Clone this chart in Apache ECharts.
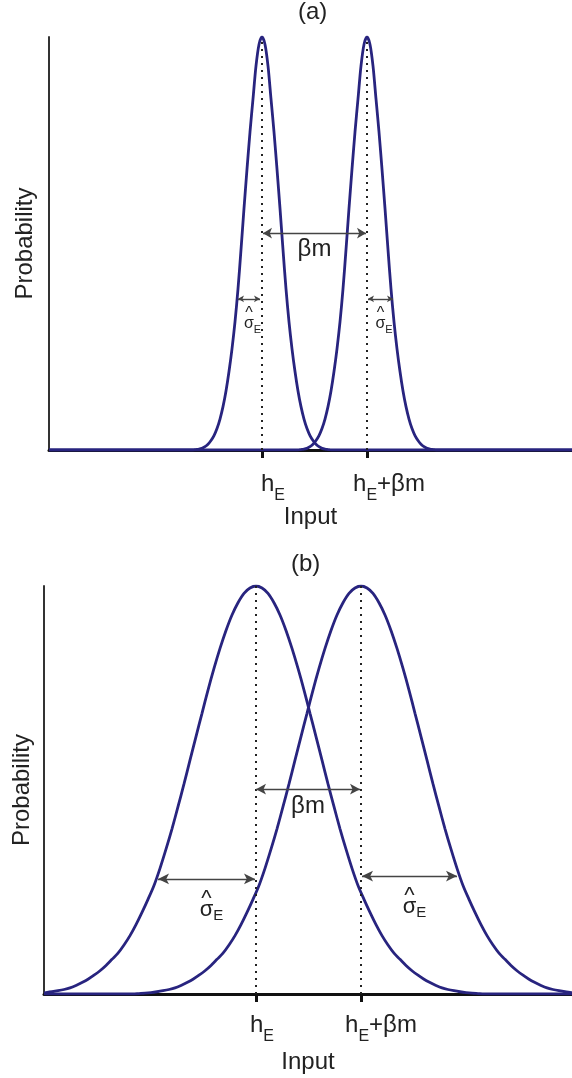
<!DOCTYPE html>
<html>
<head>
<meta charset="utf-8">
<script src="https://cdn.jsdelivr.net/npm/echarts@6/dist/echarts.min.js"></script>
<style>
  html, body { margin: 0; padding: 0; background: #fff; }
  #main { width: 572px; height: 1078px; }
</style>
</head>
<body>
<div id="main"></div>
<script>
var chartDom = document.getElementById("main");
var myChart = echarts.init(chartDom);
var option;

const FONT = '"Liberation Sans", Arial, sans-serif';
const INK = "#222";
const CURVE = "#28247f";

// ---- panel (a): narrow distributions ----
const ticksA = [213, 318]; // h_E, h_E + beta m
const xMaxA = 523;
const curveA1 = [
  [0, 0], [144, 0], [147, 0.001], [150, 0.002], [153, 0.004], [156, 0.008],
  [159, 0.014], [162, 0.023], [165, 0.035], [168, 0.052], [171, 0.075], [174, 0.105],
  [177, 0.143], [180, 0.19], [183, 0.245], [186, 0.31], [189, 0.39], [192, 0.485],
  [195, 0.585], [198, 0.68], [201, 0.77], [204, 0.85], [207, 0.93], [210, 0.982],
  [213, 1], [216, 0.982], [219, 0.93], [222, 0.85], [225, 0.77], [228, 0.68],
  [231, 0.585], [234, 0.485], [237, 0.39], [240, 0.31], [243, 0.245], [246, 0.19],
  [249, 0.143], [252, 0.105], [255, 0.075], [258, 0.052], [261, 0.035], [264, 0.023],
  [267, 0.014], [270, 0.008], [273, 0.004], [276, 0.002], [279, 0.001], [282, 0],
  [523, 0],
];
const curveA2 = [
  [0, 0], [249, 0], [252, 0.001], [255, 0.002], [258, 0.004], [261, 0.008],
  [264, 0.014], [267, 0.023], [270, 0.035], [273, 0.052], [276, 0.075], [279, 0.105],
  [282, 0.143], [285, 0.19], [288, 0.245], [291, 0.31], [294, 0.39], [297, 0.485],
  [300, 0.585], [303, 0.68], [306, 0.77], [309, 0.85], [312, 0.93], [315, 0.982],
  [318, 1], [321, 0.982], [324, 0.93], [327, 0.85], [330, 0.77], [333, 0.68],
  [336, 0.585], [339, 0.485], [342, 0.39], [345, 0.31], [348, 0.245], [351, 0.19],
  [354, 0.143], [357, 0.105], [360, 0.075], [363, 0.052], [366, 0.035], [369, 0.023],
  [372, 0.014], [375, 0.008], [378, 0.004], [381, 0.002], [384, 0.001], [387, 0],
  [523, 0],
];
// arrow tips [x, y]
const betaArrowA = [[214, 0.525], [317, 0.525]];
const sigmaArrowsA = [
  [[189, 0.366], [211, 0.366]],
  [[319, 0.366], [344, 0.366]],
];

// ---- panel (b): wide distributions ----
const ticksB = [212, 317];
const xMaxB = 528;
const curveB1 = [
  [0, 0.003], [2, 0.0035], [8, 0.0055], [14, 0.008], [20, 0.011], [26, 0.015],
  [32, 0.021], [38, 0.028], [44, 0.036], [50, 0.046], [56, 0.057], [62, 0.07],
  [68, 0.085], [74, 0.1], [80, 0.12], [86, 0.143], [92, 0.17], [98, 0.2],
  [104, 0.232], [110, 0.266], [116, 0.308], [122, 0.355], [128, 0.405], [134, 0.459],
  [140, 0.515], [146, 0.573], [152, 0.631], [158, 0.688], [164, 0.745], [170, 0.798],
  [176, 0.847], [182, 0.891], [188, 0.929], [194, 0.959], [200, 0.982], [206, 0.995],
  [212, 1], [218, 0.995], [224, 0.982], [230, 0.959], [236, 0.929], [242, 0.891],
  [248, 0.847], [254, 0.798], [260, 0.745], [266, 0.688], [272, 0.631], [278, 0.573],
  [284, 0.515], [290, 0.459], [296, 0.405], [302, 0.355], [308, 0.308], [314, 0.266],
  [320, 0.232], [326, 0.2], [332, 0.17], [338, 0.143], [344, 0.12], [350, 0.1],
  [356, 0.085], [362, 0.07], [368, 0.057], [374, 0.046], [380, 0.036], [386, 0.028],
  [392, 0.021], [398, 0.015], [404, 0.011], [410, 0.008], [416, 0.0055], [422, 0.0035],
  [428, 0.002], [434, 0.001], [440, 0], [528, 0],
];
const curveB2 = [
  [0, 0], [89, 0], [95, 0.001], [101, 0.002], [107, 0.0035], [113, 0.0055],
  [119, 0.008], [125, 0.011], [131, 0.015], [137, 0.021], [143, 0.028], [149, 0.036],
  [155, 0.046], [161, 0.057], [167, 0.07], [173, 0.085], [179, 0.1], [185, 0.12],
  [191, 0.143], [197, 0.17], [203, 0.2], [209, 0.232], [215, 0.266], [221, 0.308],
  [227, 0.355], [233, 0.405], [239, 0.459], [245, 0.515], [251, 0.573], [257, 0.631],
  [263, 0.688], [269, 0.745], [275, 0.798], [281, 0.847], [287, 0.891], [293, 0.929],
  [299, 0.959], [305, 0.982], [311, 0.995], [317, 1], [323, 0.995], [329, 0.982],
  [335, 0.959], [341, 0.929], [347, 0.891], [353, 0.847], [359, 0.798], [365, 0.745],
  [371, 0.688], [377, 0.631], [383, 0.573], [389, 0.515], [395, 0.459], [401, 0.405],
  [407, 0.355], [413, 0.308], [419, 0.266], [425, 0.232], [431, 0.2], [437, 0.17],
  [443, 0.143], [449, 0.12], [455, 0.1], [461, 0.085], [467, 0.07], [473, 0.057],
  [479, 0.046], [485, 0.036], [491, 0.028], [497, 0.021], [503, 0.015], [509, 0.011],
  [515, 0.008], [521, 0.0055], [527, 0.0035], [528, 0.003],
];
const betaArrowB = [[212, 0.502], [316, 0.502]];
const sigmaArrowsB = [
  [[114, 0.282], [211, 0.282]],
  [[318, 0.289], [413, 0.289]],
];

// double headed arrow as a markLine pair
function arrowLine(span, size, label) {
  return [
    {
      coord: span[0],
      symbol: "arrow",
      symbolSize: size,
      label: label || { show: false },
    },
    {
      coord: span[1],
      symbol: "arrow",
      symbolSize: size,
    },
  ];
}

function sigmaLabel(big, distance) {
  return {
    show: true,
    position: "insideMiddleBottom",
    distance: distance,
    formatter: "{hat|^}\n{s|σ}{e|E}",
    rich: big
      ? {
          hat: { fontSize: 22, lineHeight: 14, fontFamily: FONT, color: INK },
          s: { fontSize: 22, lineHeight: 8, padding: [0, 0, 3, 10], fontFamily: FONT, color: INK },
          e: { fontSize: 15, lineHeight: 11, padding: [10, 0, 0, 0], fontFamily: FONT, color: INK },
        }
      : {
          hat: { fontSize: 16, lineHeight: 14, fontFamily: FONT, color: INK },
          s: { fontSize: 16, lineHeight: 10, padding: [0, 0, 4, 7], fontFamily: FONT, color: INK },
          e: { fontSize: 11, lineHeight: 8, padding: [9, 0, 0, 0], fontFamily: FONT, color: INK },
        },
  };
}

function betaLabel(distance) {
  return {
    show: true,
    position: "insideMiddleBottom",
    distance: distance,
    formatter: "βm",
    fontSize: 24,
    lineHeight: 24,
    fontFamily: FONT,
    color: INK,
  };
}

function dottedLines(ticks) {
  return {
    silent: true,
    symbol: "none",
    label: { show: false },
    lineStyle: { type: [2, 5], color: "#222", width: 2 },
    data: ticks.map(function (t) {
      return { xAxis: t };
    }),
  };
}

function arrowLines(beta, sigmas, betaSize, sigmaSize, big, betaDist, sigmaDist) {
  return {
    silent: true,
    lineStyle: { type: "solid", color: "#444", width: 1.4 },
    itemStyle: { color: "#222" },
    data: [
      arrowLine(beta, betaSize, betaLabel(betaDist)),
      arrowLine(sigmas[0], sigmaSize, sigmaLabel(big, sigmaDist)),
      arrowLine(sigmas[1], sigmaSize, sigmaLabel(big, sigmaDist)),
    ],
  };
}

const tickRich = {
  h: { fontSize: 24, lineHeight: 24, padding: [0, 0, 8, 0], fontFamily: FONT, color: INK },
  sub: { fontSize: 16, lineHeight: 16, padding: [16, 0, 0, 0], fontFamily: FONT, color: INK },
};

function xAxisFor(idx, max, ticks, gaps, margin, nameGap) {
  return {
    gridIndex: idx,
    type: "value",
    min: 0,
    max: max,
    name: "Input",
    nameLocation: "middle",
    nameGap: nameGap,
    nameTextStyle: { fontSize: 24, fontFamily: FONT, color: INK },
    axisLine: { show: true, lineStyle: { color: "#111", width: 3 } },
    axisTick: { show: true, customValues: ticks, length: 8, lineStyle: { color: "#111", width: 3 } },
    splitLine: { show: false },
    axisLabel: {
      show: true,
      customValues: ticks,
      margin: margin,
      formatter: function (v) {
        return v === ticks[0]
          ? "{g0| }{h|h}{sub|E}"
          : "{g1| }{h|h}{sub|E}{h|+βm}";
      },
      rich: Object.assign({ g0: { width: gaps[0] }, g1: { width: gaps[1] } }, tickRich),
    },
  };
}

function yAxisFor(idx, nameGap) {
  return {
    gridIndex: idx,
    type: "value",
    min: 0,
    max: 1,
    name: "Probability",
    nameLocation: "middle",
    nameGap: nameGap,
    nameTextStyle: { fontSize: 24, fontFamily: FONT, color: INK },
    axisLine: { show: true, lineStyle: { color: "#333", width: 2 } },
    axisTick: { show: false },
    axisLabel: { show: false },
    splitLine: { show: false },
  };
}

function curveSeries(idx, data, extra) {
  return Object.assign(
    {
      type: "line",
      xAxisIndex: idx,
      yAxisIndex: idx,
      data: data,
      smooth: 0.3,
      showSymbol: false,
      silent: true,
      z: 3,
      lineStyle: { color: CURVE, width: 2.8 },
    },
    extra || {}
  );
}

option = {
  animation: false,
  backgroundColor: "#fff",
  title: [
    { text: "(a)", left: 298, top: 0, padding: 0, textStyle: { fontSize: 24, fontWeight: "normal", fontFamily: FONT, color: INK } },
    { text: "(b)", left: 291, top: 552, padding: 0, textStyle: { fontSize: 24, fontWeight: "normal", fontFamily: FONT, color: INK } },
  ],
  grid: [
    { left: 49, top: 37, width: 523, height: 413, outerBoundsMode: "none" },
    { left: 44, top: 586, width: 528, height: 408, outerBoundsMode: "none" },
  ],
  xAxis: [
    xAxisFor(0, xMaxA, ticksA, [22, 44], 26, 55),
    xAxisFor(1, xMaxB, ticksB, [12, 40], 23, 56),
  ],
  yAxis: [yAxisFor(0, 12), yAxisFor(1, 10)],
  series: [
    curveSeries(0, curveA1, { markLine: dottedLines(ticksA) }),
    curveSeries(0, curveA2, {
      markLine: arrowLines(betaArrowA, sigmaArrowsA, [8, 9], [5, 6], false, 4.5, 7.6),
    }),
    curveSeries(1, curveB1, { markLine: dottedLines(ticksB) }),
    curveSeries(1, curveB2, {
      markLine: arrowLines(betaArrowB, sigmaArrowsB, [8, 10], [8, 11], true, 5, 12.7),
    }),
  ],
};

option && myChart.setOption(option);
</script>
</body>
</html>
